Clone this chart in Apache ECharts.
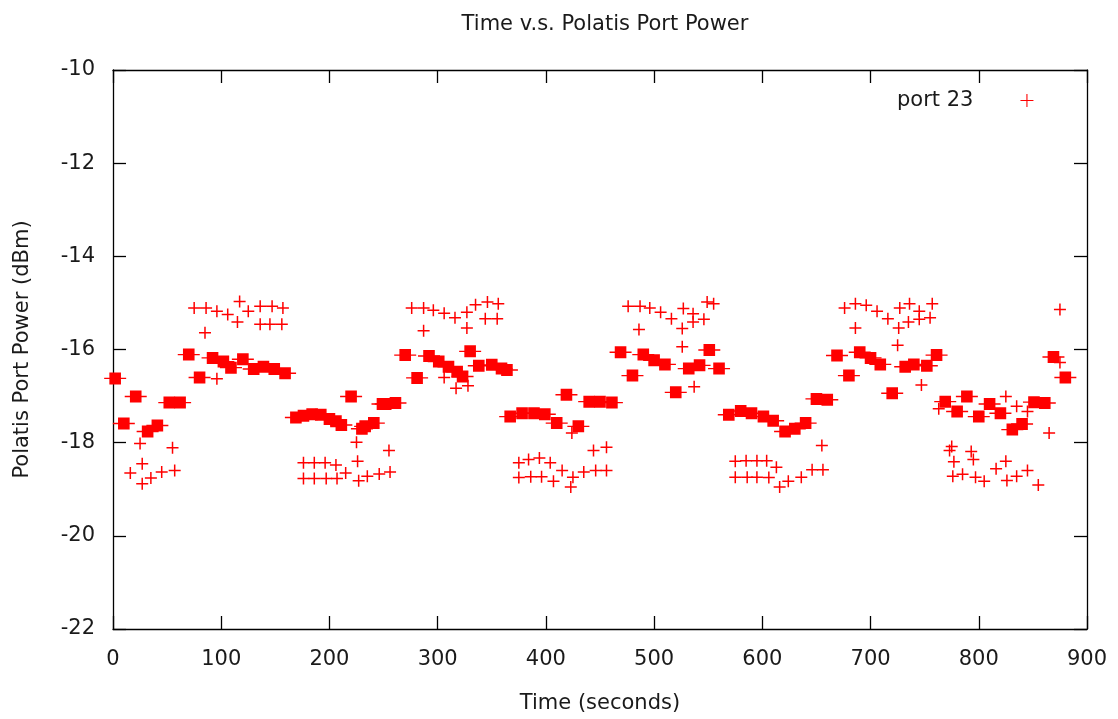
<!DOCTYPE html>
<html lang="en">

<head>
    <meta charset="UTF-8" />
    <title>Time v.s. Polatis Port Power</title>
    <script src="https://cdn.jsdelivr.net/npm/echarts@6.0.0/dist/echarts.min.js"></script>
    <style>
        html, body { margin: 0; padding: 0; background: #fff; }
        #lienzo { width: 1118px; height: 719px; }
    </style>
</head>

<body>
    <div id="lienzo"></div>

    <script>
        // axis ticks
        const timeTicks = [0, 100, 200, 300, 400, 500, 600, 700, 800, 900];
        const powerTicks = [-22, -20, -18, -16, -14, -12, -10];

        // readings that sit alone (seconds, dBm)
        const singleTime = [
            16, 25, 27, 27, 35, 45, 55, 57,
            75, 85, 86, 96, 96, 106, 115, 117, 125, 136, 136, 145, 147, 156, 157,
            176, 176, 186, 186, 196, 197, 206, 207, 215, 225, 226, 227, 235, 246, 255, 256,
            276, 287, 287, 296, 306, 306, 316, 317, 327, 327, 328, 335,
            346, 356, 344, 355,
            375, 384, 394, 404, 375, 386, 396, 407, 415, 423, 424, 425, 435, 444, 446, 456, 456,
            476, 486, 487, 496,
            506, 516, 526, 526, 527, 536, 536, 537, 546, 549, 555,
            575, 575, 585, 586, 595, 595, 604, 606, 613, 616, 624, 636, 646, 655, 656,
            676, 686, 686, 696, 706, 716, 725, 726, 727, 735, 736, 745, 745, 747, 755, 757,
            763, 773, 775, 777, 776, 785, 793, 795, 797, 805, 816, 825, 825, 826, 835, 835,
            845, 845, 855, 865, 875, 875
        ];
        const singlePower = [
            -18.65, -18.02, -18.45, -18.88, -18.76, -18.63, -18.11, -18.60,
            -15.11, -15.64, -15.11, -15.18, -16.63, -15.25, -15.41, -14.97, -15.18, -15.07, -15.46, -15.46, -15.07, -15.46, -15.11,
            -18.43, -18.77, -18.43, -18.77, -18.43, -18.77, -18.48, -18.77, -18.65, -17.99, -18.40, -18.82, -18.72, -18.67, -18.17, -18.63,
            -15.11, -15.11, -15.60, -15.16, -15.22, -16.60, -15.32, -16.83, -15.20, -15.54, -16.78, -15.04,
            -14.98, -15.02, -15.34, -15.34,
            -18.43, -18.36, -18.33, -18.43, -18.75, -18.73, -18.73, -18.83, -18.60, -18.95, -17.79, -18.74, -18.63, -18.17, -18.60, -18.10, -18.60,
            -15.07, -15.57, -15.07, -15.11,
            -15.20, -15.34, -15.55, -15.94, -15.12, -15.23, -15.41, -16.80, -15.35, -14.98, -15.02,
            -18.40, -18.74, -18.39, -18.74, -18.39, -18.74, -18.39, -18.75, -18.53, -18.95, -18.83, -18.74, -18.58, -18.06, -18.58,
            -15.11, -15.02, -15.54, -15.05, -15.18, -15.34, -15.91, -15.54, -15.11, -15.41, -15.02, -15.18, -15.35, -16.76, -15.32, -15.02,
            -17.27, -18.17, -18.08, -18.41, -18.72, -18.68, -18.19, -18.36, -18.74, -18.83, -18.56, -17.01, -18.40, -18.81, -17.22, -18.72,
            -17.33, -18.60, -18.91, -17.79, -15.14, -16.28
        ];

        // runs of repeated readings, drawn as one dense block each
        const blockTime = [
            2, 10, 21, 32, 41, 52, 62, 70, 80, 92, 102, 109, 120, 130, 139, 149, 159,
            169, 176, 184, 192, 200, 206, 211, 220, 230, 233, 241, 249, 252, 261,
            270, 281, 292, 301, 310, 318, 323, 330, 338, 350, 359, 364,
            367, 378, 389, 399, 410, 419, 430, 440, 450, 461,
            469, 480, 490, 500, 510, 520, 532, 542, 551, 560,
            569, 580, 590, 601, 610, 621, 630, 640, 650, 660,
            669, 680, 690, 700, 709, 720, 732, 740, 752, 761,
            769, 780, 789, 800, 810, 820, 831, 840, 851, 861, 869, 880
        ];
        const blockPower = [
            -16.62, -17.59, -17.01, -17.76, -17.63, -17.14, -17.14, -16.11, -16.60, -16.18, -16.26, -16.39, -16.21, -16.42, -16.37, -16.42, -16.51,
            -17.46, -17.42, -17.39, -17.40, -17.49, -17.54, -17.62, -17.01, -17.70, -17.65, -17.58, -17.17, -17.17, -17.15,
            -16.12, -16.61, -16.14, -16.26, -16.37, -16.48, -16.58, -16.04, -16.35, -16.33, -16.41, -16.44,
            -17.44, -17.37, -17.37, -17.39, -17.58, -16.97, -17.65, -17.12, -17.12, -17.14,
            -16.06, -16.56, -16.11, -16.23, -16.32, -16.92, -16.41, -16.34, -16.01, -16.41,
            -17.40, -17.32, -17.37, -17.44, -17.53, -17.76, -17.70, -17.58, -17.06, -17.08,
            -16.13, -16.56, -16.06, -16.18, -16.32, -16.94, -16.37, -16.32, -16.35, -16.12,
            -17.12, -17.33, -17.01, -17.44, -17.17, -17.37, -17.72, -17.60, -17.13, -17.15, -16.16, -16.60
        ];

        const rojo = '#ff0000';
        const tinta = '#1a1a1a';
        const fuente = 'DejaVu Sans';
        const tamano = 21;

        const cruz = 'path://M5.25,0 L6.75,0 L6.75,5.25 L12,5.25 L12,6.75 L6.75,6.75 L6.75,12 L5.25,12 L5.25,6.75 L0,6.75 L0,5.25 L5.25,5.25 Z';
        const cruzFina = 'path://M5.5,0 L6.5,0 L6.5,5.5 L12,5.5 L12,6.5 L6.5,6.5 L6.5,12 L5.5,12 L5.5,6.5 L0,6.5 L0,5.5 L5.5,5.5 Z';
        const bloque = 'path://M0,5.3 L5.2,5.3 L5.2,0 L16.8,0 L16.8,5.3 L22,5.3 L22,6.7 L16.8,6.7 L16.8,12 L5.2,12 L5.2,6.7 L0,6.7 Z';

        let myChart = echarts.init(document.getElementById('lienzo'), null, { renderer: 'canvas' });

        const ejeX = (pos, labels) => ({
            type: 'value',
            position: pos,
            min: timeTicks[0],
            max: timeTicks[timeTicks.length - 1],
            interval: timeTicks[1] - timeTicks[0],
            axisLine: { show: true, onZero: false, lineStyle: { color: '#000', width: 1.3 } },
            axisTick: { show: true, inside: true, length: 13, lineStyle: { color: '#000', width: 1.3 } },
            axisLabel: { show: labels, margin: 20, color: tinta, fontFamily: fuente, fontSize: tamano },
            splitLine: { show: false }
        });
        const ejeY = (pos, labels) => ({
            type: 'value',
            position: pos,
            min: powerTicks[0],
            max: powerTicks[powerTicks.length - 1],
            interval: powerTicks[1] - powerTicks[0],
            axisLine: { show: true, onZero: false, lineStyle: { color: '#000', width: 1.3 } },
            axisTick: { show: true, inside: true, length: 13, lineStyle: { color: '#000', width: 1.3 } },
            axisLabel: { show: labels, margin: 18, color: tinta, fontFamily: fuente, fontSize: tamano },
            splitLine: { show: false }
        });

        let x0 = ejeX('bottom', true);
        x0.name = 'Time (seconds)';
        x0.nameLocation = 'middle';
        x0.nameGap = 64;
        x0.nameTextStyle = { color: tinta, fontFamily: fuente, fontSize: tamano };

        let y0 = ejeY('left', true);
        y0.name = 'Polatis Port Power (dBm)';
        y0.nameLocation = 'middle';
        y0.nameGap = 80;
        y0.nameTextStyle = { color: tinta, fontFamily: fuente, fontSize: tamano };

        myChart.setOption({
            animation: false,
            backgroundColor: '#fff',
            title: {
                text: 'Time v.s. Polatis Port Power',
                left: 600,
                top: 9,
                textAlign: 'center',
                textStyle: { color: tinta, fontFamily: fuente, fontSize: tamano, fontWeight: 'normal' }
            },
            legend: {
                left: 897,
                top: 90,
                padding: 0,
                align: 'right',
                itemWidth: 13,
                itemHeight: 13,
                data: [{ name: 'port 23', icon: cruzFina }],
                textStyle: { color: tinta, fontFamily: fuente, fontSize: tamano, padding: [0, 42, 0, 0] }
            },
            grid: { left: 113, right: 31, top: 70, bottom: 87, containLabel: false },
            xAxis: [x0, ejeX('top', false)],
            yAxis: [y0, ejeY('right', false)],
            series: [
                {
                    name: 'port 23',
                    type: 'scatter',
                    xAxisIndex: 0,
                    yAxisIndex: 0,
                    symbol: cruz,
                    symbolSize: 12,
                    itemStyle: { color: rojo, opacity: 1 },
                    data: singleTime.map((t, i) => [t, singlePower[i]])
                },
                {
                    name: 'port 23',
                    type: 'scatter',
                    xAxisIndex: 0,
                    yAxisIndex: 0,
                    symbol: bloque,
                    symbolSize: [22, 12],
                    itemStyle: { color: rojo, opacity: 1 },
                    data: blockTime.map((t, i) => [t, blockPower[i]])
                }
            ]
        });
    </script>
</body>

</html>
